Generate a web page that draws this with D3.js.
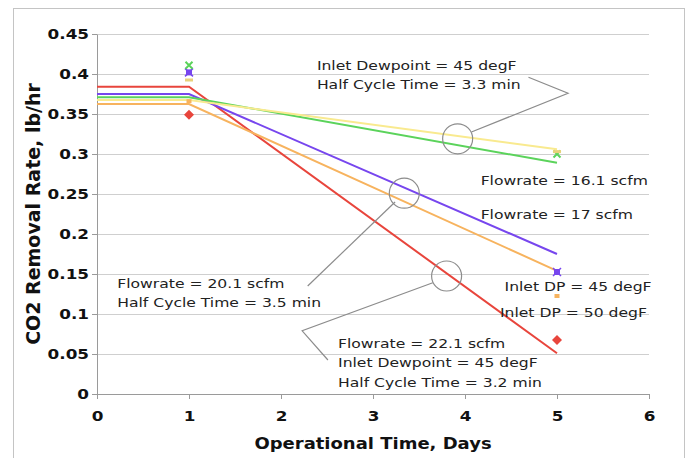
<!DOCTYPE html>
<html>
<head>
<meta charset="utf-8">
<script src="https://cdn.jsdelivr.net/npm/d3@7"></script>
<style>
  body { margin: 0; background: #fff; }
  text { font-family: "DejaVu Sans", Verdana, sans-serif; fill: #111; }
  .grid-line { stroke: #cfcfcf; stroke-width: 1; }
  .axis path, .axis line { stroke: #9a9a9a; }
  .note { font-size: 13px; fill: #222; }
  .leader { fill: none; stroke: #8c8c8c; stroke-width: 1.2; }
</style>
</head>
<body>
<div class="module-graph"></div>
<script>
"use strict"

let width = 688,
    height = 458;
const stretch = 1.2; // the original picture is wider than tall

// fitted lines: value at day 0, 1 and 5
const days = [0, 1, 5];
const seriesNames = ["22.1 scfm", "17 scfm", "16.1 scfm", "DP 45, 3.3 min", "20.1 scfm"];
const seriesColors = ["#e8453c", "#7746ee", "#5bd35b", "#f9ea8f", "#f7b35e"];
const fitRed = [0.384, 0.384, 0.051];
const fitPurple = [0.375, 0.375, 0.175];
const fitGreen = [0.371, 0.371, 0.289];
const fitYellow = [0.3675, 0.3675, 0.306];
const fitOrange = [0.3625, 0.3625, 0.154];
const fits = [fitRed, fitPurple, fitGreen, fitYellow, fitOrange];

// measured points at day 1 and day 5
const pointDays = [1, 5];
const ptsRed = [0.349, 0.0675];
const ptsPurple = [0.402, 0.1525];
const ptsGreen = [0.411, 0.300];
const ptsYellow = [0.3925, 0.303];
const ptsOrange = [0.366, 0.1225];
const points = [ptsRed, ptsPurple, ptsGreen, ptsYellow, ptsOrange];
const markerKinds = ["diamond", "star", "cross", "dash", "square"];

const xTicks = [0, 1, 2, 3, 4, 5, 6];
const yTicks = [0, 0.05, 0.1, 0.15, 0.2, 0.25, 0.3, 0.35, 0.4, 0.45];

// annotations (data units)
const circles = [[3.92, 0.319], [3.34, 0.251], [3.80, 0.1475]];
const leaders = [
    [[4.07, 0.3275], [5.12, 0.376], [4.69, 0.396]],
    [[3.24, 0.240], [2.29, 0.135]],
    [[3.65, 0.139], [2.23, 0.079], [2.51, 0.0425]]
];
const notes = [
    {x: 2.39, y: 0.405, lines: ["Inlet Dewpoint = 45 degF", "Half Cycle Time = 3.3 min"]},
    {x: 4.17, y: 0.261, lines: ["Flowrate = 16.1 scfm"]},
    {x: 4.17, y: 0.219, lines: ["Flowrate = 17 scfm"]},
    {x: 0.22, y: 0.133, lines: ["Flowrate = 20.1 scfm", "Half Cycle Time = 3.5 min"]},
    {x: 4.43, y: 0.129, lines: ["Inlet DP = 45 degF"]},
    {x: 4.38, y: 0.096, lines: ["Inlet DP = 50 degF"]},
    {x: 2.62, y: 0.0575, lines: ["Flowrate = 22.1 scfm", "Inlet Dewpoint = 45 degF", "Half Cycle Time = 3.2 min"]}
];

const svg = d3.select("div.module-graph").append("svg")
    .attr("width", width)
    .attr("height", height);

svg.append("rect")
    .attr("x", 13.5).attr("y", 8.5)
    .attr("width", 671).attr("height", 470)
    .attr("fill", "#fff")
    .attr("stroke", "#c4c4c4");

const scaleX = d3.scaleLinear().domain([0, 6]).range([97, 649]);
const scaleY = d3.scaleLinear().domain([0, 0.45]).range([394, 34]);

// grid
svg.append("g").selectAll("line")
    .data(yTicks.slice(1))
    .join("line")
    .attr("class", "grid-line")
    .attr("x1", scaleX(0)).attr("x2", scaleX(6))
    .attr("y1", d => Math.round(scaleY(d)) + 0.5)
    .attr("y2", d => Math.round(scaleY(d)) + 0.5);

const yAxis = svg.append("g")
    .attr("class", "axis")
    .attr("transform", "translate(" + scaleX(0) + ",0)")
    .call(d3.axisLeft(scaleY).tickValues(yTicks).tickSize(5).tickSizeOuter(0)
        .tickFormat(d => String(+d.toFixed(2))));
const xAxis = svg.append("g")
    .attr("class", "axis")
    .attr("transform", "translate(0," + scaleY(0) + ")")
    .call(d3.axisBottom(scaleX).tickValues(xTicks).tickSize(5).tickSizeOuter(0)
        .tickFormat(d => String(d)));

svg.selectAll(".axis text")
    .style("font-size", "14px")
    .style("font-weight", "bold")
    .style("font-family", "DejaVu Sans");
yAxis.selectAll(".tick text")
    .attr("x", -8 / stretch)
    .attr("transform", "scale(" + stretch + ",1)");
xAxis.selectAll(".tick text")
    .attr("y", 17)
    .attr("transform", "scale(" + stretch + ",1)");

// lines
const line = d3.line()
    .x((d, i) => scaleX(days[i]))
    .y(d => scaleY(d));
svg.append("g").selectAll("path")
    .data(fits)
    .join("path")
    .attr("fill", "none")
    .attr("stroke", (d, i) => seriesColors[i])
    .attr("stroke-width", 2)
    .attr("d", line);

// markers
const mk = svg.append("g");
points.forEach((vals, s) => {
    vals.forEach((v, k) => {
        const cx = scaleX(pointDays[k]), cy = scaleY(v);
        const c = seriesColors[s];
        const kind = markerKinds[s];
        const g = mk.append("g").attr("transform", "translate(" + cx + "," + cy + ")");
        if (kind === "diamond") {
            g.append("path").attr("d", "M0,-5L5,0L0,5L-5,0Z").attr("fill", c);
        } else if (kind === "star") {
            g.append("rect").attr("x", -3).attr("y", -3).attr("width", 6).attr("height", 6).attr("fill", c);
            g.append("path").attr("d", "M-4,-4L4,4M-4,4L4,-4").attr("stroke", c).attr("stroke-width", 1.5);
        } else if (kind === "cross") {
            g.append("path").attr("d", "M-3.5,-3.5L3.5,3.5M-3.5,3.5L3.5,-3.5").attr("stroke", c).attr("stroke-width", 2);
        } else if (kind === "dash") {
            g.append("rect").attr("x", -4).attr("y", -1.5).attr("width", 8).attr("height", 3).attr("fill", "#e8d27a");
        } else {
            g.append("rect").attr("x", -2.5).attr("y", -2).attr("width", 5).attr("height", 4).attr("fill", c);
        }
    });
});

// callouts
svg.append("g").selectAll("ellipse")
    .data(circles)
    .join("ellipse")
    .attr("cx", d => scaleX(d[0]))
    .attr("cy", d => scaleY(d[1]))
    .attr("rx", 15).attr("ry", 15)
    .attr("fill", "none")
    .attr("stroke", "#8c8c8c")
    .attr("stroke-width", 1.2);
svg.append("g").selectAll("path")
    .data(leaders)
    .join("path")
    .attr("class", "leader")
    .attr("d", d3.line().x(d => scaleX(d[0])).y(d => scaleY(d[1])));

const noteG = svg.append("g");
notes.forEach(n => {
    const x0 = scaleX(n.x), y0 = scaleY(n.y);
    const t = noteG.append("text")
        .attr("class", "note")
        .attr("transform", "translate(" + x0 + "," + y0 + ") scale(" + stretch + ",1)");
    n.lines.forEach((s, i) => {
        t.append("tspan").attr("x", 0).attr("y", i * 19.5).text(s);
    });
});

// axis titles
svg.append("text")
    .attr("transform", "translate(" + (scaleX(0) + scaleX(6)) / 2 + ",449) scale(" + stretch + ",1)")
    .attr("text-anchor", "middle")
    .style("font-size", "15px")
    .style("font-weight", "bold")
    .text("Operational Time, Days");
svg.append("text")
    .attr("transform", "translate(40," + (scaleY(0) + scaleY(0.45)) / 2 + ") scale(1.05,1) rotate(-90)")
    .attr("text-anchor", "middle")
    .style("font-size", "19px")
    .style("font-weight", "bold")
    .text("CO2 Removal Rate, lb/hr");
</script>
</body>
</html>
